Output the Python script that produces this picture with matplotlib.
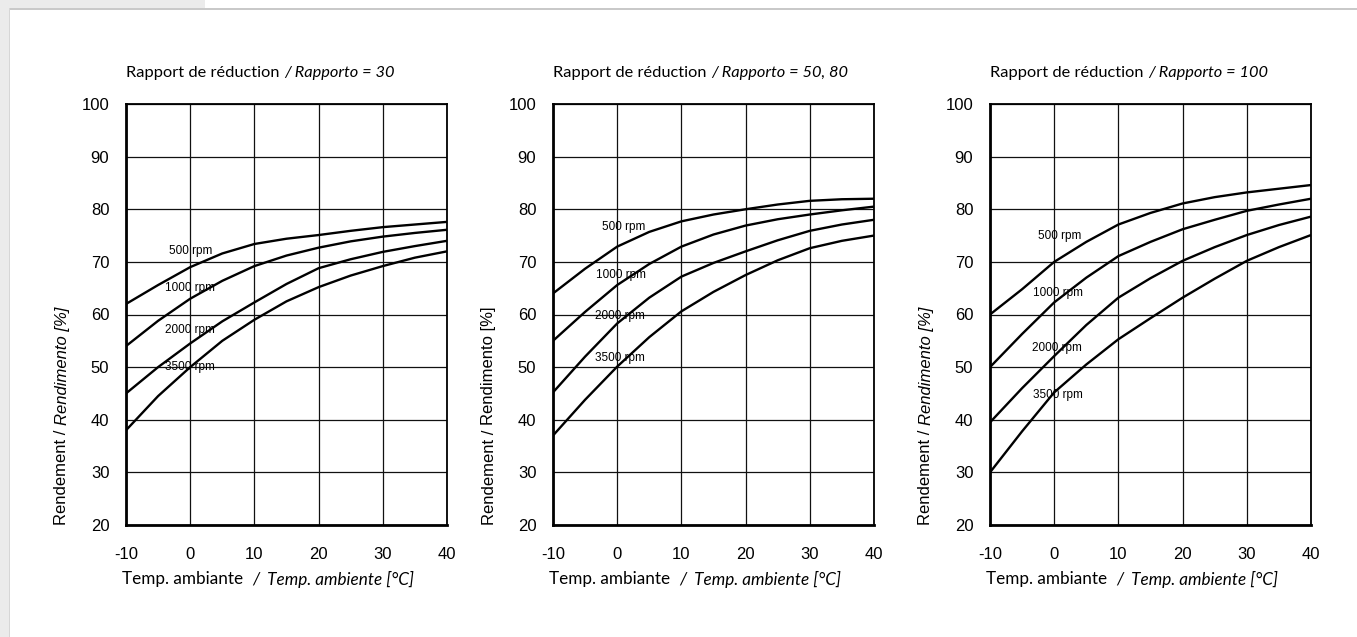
import matplotlib.pyplot as plt
from matplotlib.patches import Rectangle
from matplotlib.text import Annotation

plt.rcParams["axes.unicode_minus"] = False

# Temperatures (°C) at which the curves were read
temps = [-10, -5, 0, 5, 10, 15, 20, 25, 30, 35, 40]
speeds = ["500 rpm", "1000 rpm", "2000 rpm", "3500 rpm"]

# Rapporto = 30
r30_500 = [62, 65.6, 69, 71.6, 73.4, 74.4, 75.1, 75.9, 76.6, 77.1, 77.6]
r30_1000 = [54, 58.8, 63, 66.4, 69.2, 71.2, 72.7, 73.9, 74.8, 75.5, 76.1]
r30_2000 = [45, 50, 54.5, 58.7, 62.3, 65.8, 68.8, 70.5, 71.9, 73, 74]
r30_3500 = [38, 44.5, 50, 55, 59, 62.5, 65.2, 67.4, 69.2, 70.8, 72]

# Rapporto = 50, 80
r50_500 = [64, 68.7, 72.9, 75.7, 77.7, 79, 80, 80.9, 81.6, 81.9, 82]
r50_1000 = [55, 60.5, 65.6, 69.6, 72.9, 75.2, 76.9, 78.1, 79, 79.8, 80.5]
r50_2000 = [45.2, 52, 58.3, 63.2, 67.2, 69.8, 72, 74.1, 75.9, 77.1, 78]
r50_3500 = [37, 43.8, 50.1, 55.7, 60.6, 64.3, 67.5, 70.3, 72.6, 74, 75]

# Rapporto = 100
r100_500 = [60, 64.8, 70, 73.8, 77.1, 79.3, 81.1, 82.3, 83.2, 83.9, 84.6]
r100_1000 = [50, 56.3, 62.3, 67, 71.1, 73.8, 76.2, 78, 79.7, 80.9, 82]
r100_2000 = [39.5, 46, 52.1, 58, 63.2, 66.9, 70.2, 72.8, 75.1, 77, 78.6]
r100_3500 = [30, 37.8, 45.2, 50.5, 55.3, 59.3, 63.2, 66.8, 70.2, 72.8, 75.1]

# label positions (T, value) for the rpm texts
lab30 = [(0, 72), (0, 65), (0, 57), (0, 50)]
lab50 = [(1, 76.7), (0.6, 67.5), (0.5, 59.7), (0.5, 51.7)]
lab100 = [(0.9, 75), (0.6, 64), (0.4, 53.6), (0.6, 44.7)]

panels = [
    ("30", [r30_500, r30_1000, r30_2000, r30_3500], lab30, True),
    ("50, 80", [r50_500, r50_1000, r50_2000, r50_3500], lab50, False),
    ("100", [r100_500, r100_1000, r100_2000, r100_3500], lab100, True),
]

W, H = 1357, 637
fig = plt.figure(figsize=(W / 100, H / 100), dpi=100)
fig.patch.set_facecolor("white")


def px_rect(x0, y0, x1, y1, color):
    fig.patches.append(Rectangle((x0 / W, 1 - y1 / H), (x1 - x0) / W, (y1 - y0) / H,
                                 transform=fig.transFigure, color=color, lw=0, zorder=-5))


# page background bits
px_rect(0, 0, 205, 9, "#ebebeb")
px_rect(0, 0, 9, H, "#ebebeb")
px_rect(9, 8, W, 10, "#c9c9c9")
px_rect(9, 8, 10, H, "#d6d6d6")

lefts = [126, 553, 990]
top, bottom, width = 104, 525, 321
label_font = "Lato"
num_font = "Liberation Sans"

for left, (ratio, series, labs, ital) in zip(lefts, panels):
    ax = fig.add_axes([left / W, 1 - bottom / H, width / W, (bottom - top) / H])
    for vals, name, (lx, ly) in zip(series, speeds, labs):
        ax.plot(temps, vals, color="black", lw=1.7, solid_capstyle="butt", zorder=3)
        ax.text(lx, ly, name, fontsize=8.5, family=num_font, ha="center", va="center", zorder=4)
    ax.set_xlim(-10, 40)
    ax.set_ylim(20, 100)
    ax.set_xticks(range(-10, 41, 10))
    ax.set_yticks(range(20, 101, 10))
    ax.grid(True, color="#111111", lw=0.9)
    ax.set_axisbelow(True)
    ax.tick_params(length=0, labelsize=12)
    ax.tick_params(axis="y", pad=12)
    ax.tick_params(axis="x", pad=16)
    for lab in ax.get_xticklabels() + ax.get_yticklabels():
        lab.set_family(num_font)
    for s in ax.spines.values():
        s.set_linewidth(1.3)
    ax.spines["left"].set_linewidth(2)
    ax.spines["bottom"].set_linewidth(2)

    # title
    t1 = fig.text(left / W, 1 - 73 / H, "Rapport de réduction ", fontsize=11.8,
                  family=label_font, va="center", ha="left")
    fig.add_artist(Annotation("/ Rapporto = " + ratio, xy=(1, 0.5), xycoords=t1,
                              fontsize=11.8, family=label_font, style="italic",
                              va="center", ha="left"))
    # x label
    x1 = fig.text((left - 4) / W, 1 - 579 / H, "Temp. ambiante  ", fontsize=12.3,
                  family=label_font, va="center", ha="left")
    fig.add_artist(Annotation("/  Temp. ambiente [°C]", xy=(1, 0.5), xycoords=x1,
                              fontsize=12.3, family=label_font, style="italic",
                              va="center", ha="left"))
    # y label
    y1 = fig.text((left - 64) / W, 1 - bottom / H, "Rendement / ", fontsize=12,
                  family=num_font, rotation=90, va="bottom", ha="center")
    fig.add_artist(Annotation("Rendimento [%]", xy=(0.5, 1), xycoords=y1,
                              fontsize=12, family=num_font, rotation=90,
                              style="italic" if ital else "normal",
                              va="bottom", ha="center"))

fig.savefig("out.png", dpi=100, facecolor=fig.get_facecolor())
